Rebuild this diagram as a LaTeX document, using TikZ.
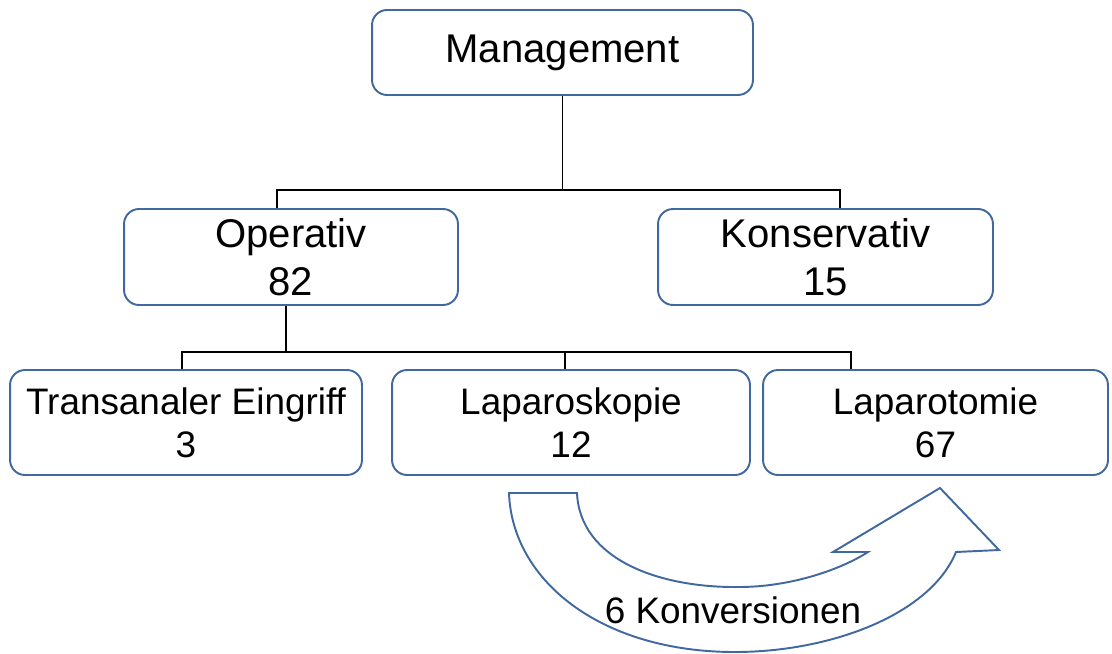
\documentclass[tikz,border=0pt]{standalone}
\usepackage{fontspec}
\setmainfont{Liberation Sans}

\definecolor{boxblue}{RGB}{65,105,160}

\tikzset{
  box/.style={draw=boxblue, line width=1.1pt, rounded corners=0.3cm, fill=white,
    align=center, inner sep=0pt},
  topbox/.style={box, font=\fontsize{22.8}{27.5}\selectfont},
  lowbox/.style={box, font=\fontsize{21}{24.5}\selectfont},
  link/.style={black, line width=1.1pt}
}

\begin{document}
\begin{tikzpicture}[x=0.02cm, y=-0.02cm]

\useasboundingbox (0,0) rectangle (1112,653);

% Boxes
\node[topbox, minimum width=7.62cm, minimum height=1.7cm] (mgmt) at (562.5,52.5) {Management};
\node[topbox, minimum width=6.68cm, minimum height=1.92cm] (op) at (291,257) {Operativ\\82};
\node[topbox, minimum width=6.7cm, minimum height=1.92cm] (kons) at (825.5,257) {Konservativ\\15};
\node[lowbox, minimum width=7.04cm, minimum height=2.1cm] (tra) at (186,422.5) {Transanaler Eingriff\\3};
\node[lowbox, minimum width=7.16cm, minimum height=2.1cm] (lsk) at (571,422.5) {Laparoskopie\\12};
\node[lowbox, minimum width=6.9cm, minimum height=2.1cm] (lto) at (935.5,422.5) {Laparotomie\\67};

% Upper bus
\coordinate (busL) at (277,190);
\coordinate (busR) at (840,190);
\draw[link] (mgmt.south) -- (mgmt.south |- busL);
\draw[link] (op.north -| busL) -- (busL) -- (busR) -- (kons.north -| busR);

% Lower bus
\coordinate (subT) at (286,352);
\coordinate (subL) at (182,352);
\coordinate (subM) at (565,352);
\coordinate (subR) at (851,352);
\draw[link] (op.south -| subT) -- (subT);
\draw[link] (tra.north -| subL) -- (subL) -- (subR) -- (lto.north -| subR);
\draw[link] (subM) -- (lsk.north -| subM);

% Curved block arrow
\draw[boxblue, line width=1.1pt, fill=white, line join=miter]
  (509,493) -- (577,493)
  .. controls (580,560) and (660,588) .. (739,587)
  .. controls (790,587) and (840,570) .. (868,552)
  -- (833,552) -- (940,488) -- (999,550) -- (956,552)
  .. controls (930,615) and (830,652) .. (735,652)
  .. controls (600,652) and (512,580) .. (509,493) -- cycle;
\node[font=\fontsize{21}{24.5}\selectfont] (conv) at (733,610) {6 Konversionen};

\end{tikzpicture}
\end{document}
